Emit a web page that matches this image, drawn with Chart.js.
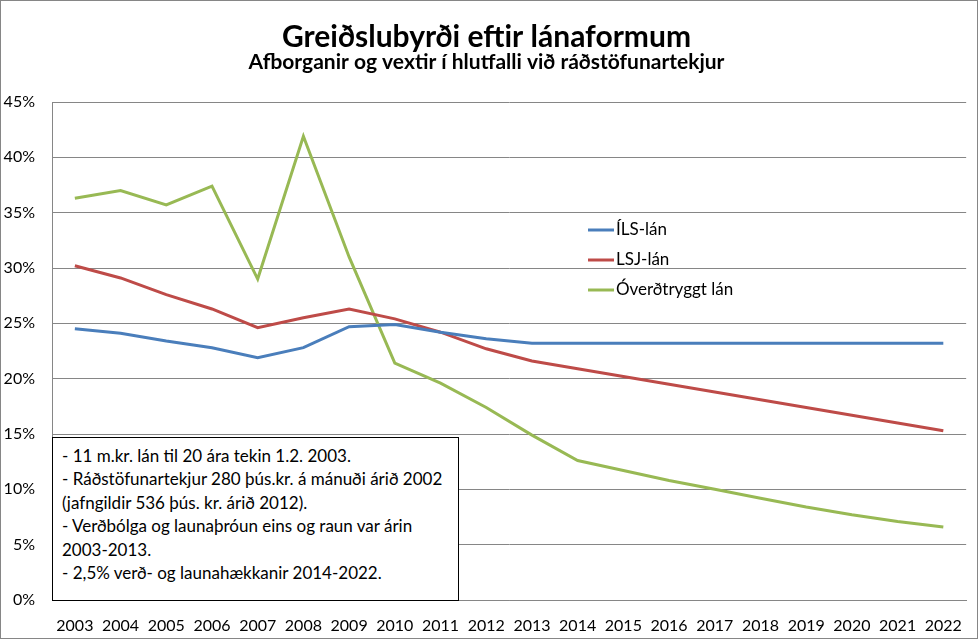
<!DOCTYPE html>
<html lang="is">
<head>
<meta charset="UTF-8">
<title>Greiðslubyrði eftir lánaformum</title>
<script src="https://cdn.jsdelivr.net/npm/chart.js"></script>
<style>
  body { margin: 0; background: #fff; }
  #wrap { position: relative; width: 978px; height: 639px; }
  #frame { position: absolute; left: 0; top: 0; width: 976px; height: 637px; border: 1px solid #868686; pointer-events: none; }
  #note {
    position: absolute; left: 52px; top: 437px; width: 407px; height: 164px;
    border: 1px solid #000; background: #fff;
    font-family: Lato, "Open Sans", sans-serif; font-size: 17px; line-height: 23.4px;
    padding: 6px 0 0 9px; box-sizing: border-box; white-space: nowrap; color: #000;
  }
</style>
</head>
<body>
<div id="wrap">
  <canvas id="chart" width="978" height="639"></canvas>
  <div id="note">
    - 11 m.kr. lán til 20 ára tekin 1.2. 2003.<br>
    - Ráðstöfunartekjur 280 þús.kr. á mánuði árið 2002<br>
    (jafngildir 536 þús. kr. árið 2012).<br>
    - Verðbólga og launaþróun eins og raun var árin<br>
    2003-2013.<br>
    - 2,5% verð- og launahækkanir 2014-2022.
  </div>
  <div id="frame"></div>
</div>

<script>
var years = ['2003','2004','2005','2006','2007','2008','2009','2010','2011','2012',
             '2013','2014','2015','2016','2017','2018','2019','2020','2021','2022'];

var ilsLan = [24.5, 24.1, 23.4, 22.8, 21.9, 22.8, 24.7, 24.9, 24.2, 23.6,
              23.2, 23.2, 23.2, 23.2, 23.2, 23.2, 23.2, 23.2, 23.2, 23.2];

var lsjLan = [30.2, 29.1, 27.6, 26.3, 24.6, 25.5, 26.3, 25.4, 24.2, 22.7,
              21.6, 20.9, 20.2, 19.5, 18.8, 18.1, 17.4, 16.7, 16.0, 15.3];

var overdtryggt = [36.3, 37.0, 35.7, 37.4, 29.0, 41.9, 31.0, 21.4, 19.6, 17.4,
                   14.9, 12.6, 11.7, 10.8, 10.0, 9.2, 8.4, 7.7, 7.1, 6.6];

var FONT = 'Lato, "Open Sans", sans-serif';

// legend drawn inside the plot, like the Excel original
var insideLegend = {
  id: 'insideLegend',
  afterDraw: function (chart) {
    var ctx = chart.ctx;
    var rows = [230, 260, 290];
    ctx.save();
    ctx.font = '17px ' + FONT;
    ctx.textBaseline = 'middle';
    ctx.fillStyle = '#000';
    chart.data.datasets.forEach(function (ds, i) {
      ctx.strokeStyle = ds.borderColor;
      ctx.lineWidth = 3;
      ctx.beginPath();
      ctx.moveTo(588, rows[i]);
      ctx.lineTo(614, rows[i]);
      ctx.stroke();
      ctx.fillText(ds.label, 616, rows[i]);
    });
    ctx.restore();
  }
};

var ctx = document.getElementById('chart').getContext('2d');
var chart = new Chart(ctx, {
  type: 'line',
  data: {
    labels: years,
    datasets: [
      { label: 'ÍLS-lán', data: ilsLan, borderColor: '#4A7EBB', backgroundColor: '#4A7EBB' },
      { label: 'LSJ-lán', data: lsjLan, borderColor: '#BE4B48', backgroundColor: '#BE4B48' },
      { label: 'Óverðtryggt lán', data: overdtryggt, borderColor: '#98B954', backgroundColor: '#98B954' }
    ]
  },
  options: {
    responsive: false,
    animation: false,
    layout: { padding: { left: 0, right: 5, top: 0, bottom: 0 } },
    elements: {
      line: { borderWidth: 3, tension: 0 },
      point: { radius: 0, hoverRadius: 0 }
    },
    plugins: {
      legend: { display: false },
      tooltip: { enabled: false },
      title: {
        display: true,
        text: 'Greiðslubyrði eftir lánaformum',
        color: '#000',
        font: { family: FONT, size: 30, weight: 'bold', lineHeight: 1.0 },
        padding: { top: 22, bottom: 0 }
      },
      subtitle: {
        display: true,
        text: 'Afborganir og vextir í hlutfalli við ráðstöfunartekjur',
        color: '#000',
        font: { family: FONT, size: 21, weight: 'bold', lineHeight: 1.0 },
        padding: { top: 0, bottom: 29 }
      }
    },
    scales: {
      x: {
        offset: true,
        grid: { display: false, drawTicks: false },
        border: { color: '#868686' },
        ticks: { color: '#000', font: { family: FONT, size: 16 }, padding: 16, maxRotation: 0, autoSkip: false },
        afterFit: function (s) { s.height = 39; }
      },
      y: {
        min: 0,
        max: 45,
        grid: { color: '#868686', drawTicks: false },
        border: { color: '#868686' },
        ticks: {
          stepSize: 5,
          color: '#000',
          font: { family: FONT, size: 16 },
          padding: 17,
          callback: function (v) { return v + '%'; }
        },
        afterFit: function (s) { s.width = 52; }
      }
    }
  },
  plugins: [insideLegend]
});
</script>
</body>
</html>
